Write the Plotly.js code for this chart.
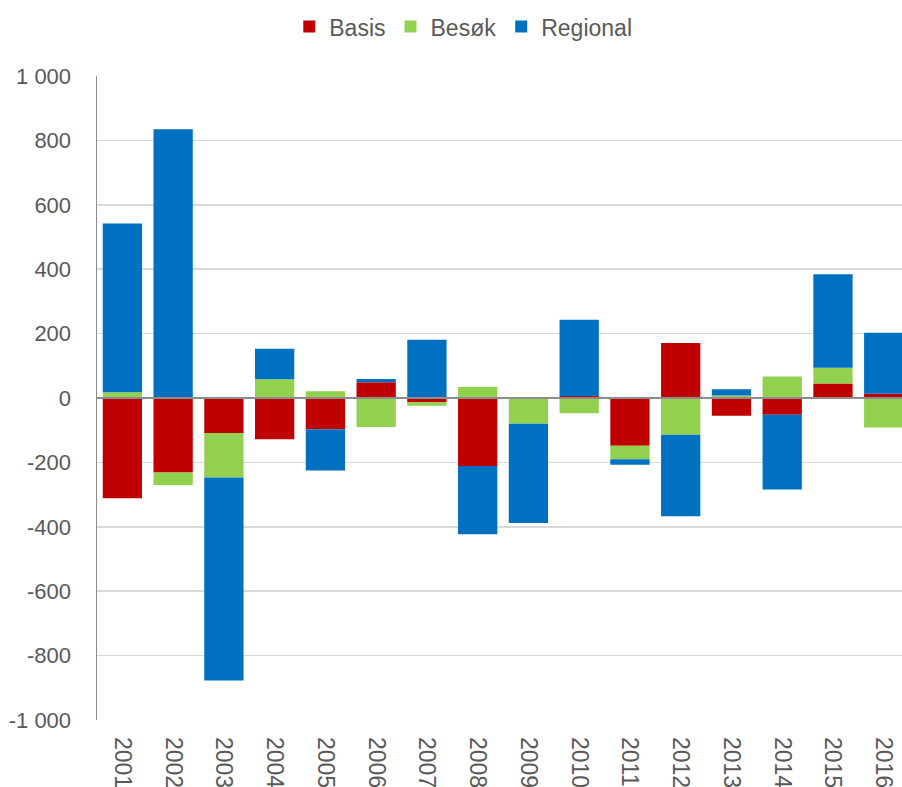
<!DOCTYPE html>
<html>
<head>
<meta charset="utf-8">
<script src="https://cdn.plot.ly/plotly-3.0.1.min.js"></script>
<style>
html, body { margin: 0; padding: 0; background: #ffffff; overflow: hidden; }
#chart { width: 902px; height: 787px; }
</style>
</head>
<body>
<div id="chart"></div>
<script>
const years = ['2001','2002','2003','2004','2005','2006','2007','2008','2009','2010','2011','2012','2013','2014','2015','2016'];
const basis    = [-311, -231, -109, -128,  -97,  49, -13, -211,    0,    6, -148,  171, -55, -52,  45,  13];
const besok    = [  18,  -39, -138,   58,   21, -90, -11,   34,  -80,  -47,  -42, -114,   8,  67,  49, -92];
const regional = [ 524,  835, -630,   95, -128,  10, 181, -212, -308,  237,  -17, -253,  19, -232, 290, 190];
const yTickVals = [-1000, -800, -600, -400, -200, 0, 200, 400, 600, 800, 1000];
const yTickText = ['-1 000', '-800', '-600', '-400', '-200', '0', '200', '400', '600', '800', '1 000'];

const font = { family: '"Liberation Sans", Arial, sans-serif', size: 22, color: '#595959' };
const legendFont = { family: '"Liberation Sans", Arial, sans-serif', size: 23, color: '#595959' };
const xFont = { family: '"Liberation Sans", Arial, sans-serif', size: 23, color: '#595959' };

const traces = [
  { name: 'Basis', y: basis, color: '#C00000' },
  { name: 'Besøk', y: besok, color: '#92D050' },
  { name: 'Regional', y: regional, color: '#0070C0' }
].map(s => ({
  type: 'bar',
  name: s.name,
  x: years,
  y: s.y,
  marker: { color: s.color, line: { width: 0 } },
  hoverinfo: 'none'
}));

const layout = {
  width: 902,
  height: 787,
  margin: { l: 97, r: 0, t: 75.5, b: 67.3 },
  paper_bgcolor: '#ffffff',
  plot_bgcolor: '#ffffff',
  font: font,
  barmode: 'relative',
  bargap: 0.226,
  showlegend: true,
  legend: {
    orientation: 'h',
    x: 0.455, xanchor: 'center',
    y: 1.11, yanchor: 'top',
    font: legendFont,
    itemwidth: 30,
    tracegroupgap: 0
  },
  xaxis: {
    type: 'category',
    range: [-0.5, 15.36],
    showgrid: false,
    showline: false,
    zeroline: false,
    ticks: '',
    tickangle: 90,
    tickfont: xFont,
    ticklabelstandoff: 16,
    fixedrange: true
  },
  yaxis: {
    range: [-1000, 1000],
    tickvals: yTickVals,
    ticktext: yTickText,
    showgrid: true,
    gridcolor: '#d9d9d9',
    gridwidth: 1.5,
    zeroline: false,
    showline: true,
    linecolor: '#8c8c8c',
    linewidth: 1.5,
    ticks: '',
    tickfont: font,
    ticklabelstandoff: 20,
    fixedrange: true
  },
  shapes: [{
    type: 'line',
    xref: 'paper', yref: 'y',
    x0: 0, x1: 1, y0: 0, y1: 0,
    line: { color: '#8c8c8c', width: 2 },
    layer: 'above'
  }]
};

Plotly.newPlot('chart', traces, layout, { displayModeBar: false, staticPlot: true });
</script>
</body>
</html>
